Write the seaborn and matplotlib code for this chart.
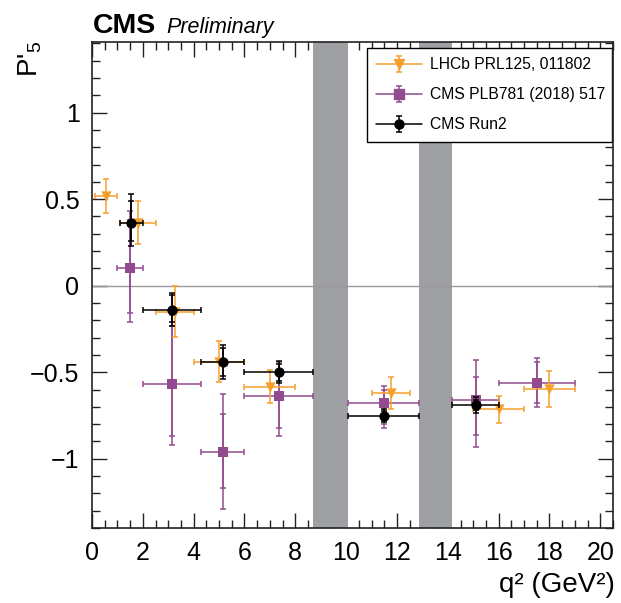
import numpy as np
import pandas as pd
import matplotlib
matplotlib.use("Agg")
import matplotlib.pyplot as plt
from matplotlib.ticker import MultipleLocator
import seaborn as sns

# ---------------- data ----------------
# LHCb PRL125, 011802
lhcb_lo = [0.1, 1.1, 2.5, 4.0, 6.0, 11.0, 15.0, 17.0]
lhcb_hi = [0.98, 2.5, 4.0, 6.0, 8.0, 12.5, 17.0, 19.0]
lhcb_p5 = [0.521, 0.365, -0.150, -0.439, -0.583, -0.622, -0.714, -0.597]
lhcb_err = [0.098, 0.123, 0.147, 0.117, 0.095, 0.092, 0.077, 0.103]

# CMS PLB781 (2018) 517
cms16_lo = [1.0, 2.0, 4.3, 6.0, 10.09, 14.18, 16.0]
cms16_hi = [2.0, 4.3, 6.0, 8.68, 12.86, 16.0, 19.0]
cms16_p5 = [0.10, -0.57, -0.96, -0.64, -0.68, -0.66, -0.56]
cms16_stat_up = [0.28, 0.34, 0.22, 0.15, 0.08, 0.13, 0.12]
cms16_stat_dn = [0.26, 0.30, 0.21, 0.18, 0.12, 0.20, 0.12]
cms16_tot_up = [0.33, 0.40, 0.335, 0.20, 0.10, 0.23, 0.14]
cms16_tot_dn = [0.31, 0.35, 0.33, 0.23, 0.145, 0.27, 0.14]

# CMS Run2
run2_lo = [1.1, 2.0, 4.3, 6.0, 10.09, 14.18]
run2_hi = [2.0, 4.3, 6.0, 8.68, 12.86, 16.0]
run2_p5 = [0.36, -0.14, -0.44, -0.50, -0.75, -0.69]
run2_stat_up = [0.13, 0.085, 0.08, 0.05, 0.025, 0.03]
run2_stat_dn = [0.10, 0.07, 0.08, 0.05, 0.025, 0.03]
run2_tot_up = [0.17, 0.10, 0.10, 0.065, 0.035, 0.045]
run2_tot_dn = [0.13, 0.09, 0.10, 0.065, 0.035, 0.045]

# vetoed charmonium regions
veto_lo = [8.68, 12.86]
veto_hi = [10.09, 14.18]

labels = ["LHCb PRL125, 011802", "CMS PLB781 (2018) 517", "CMS Run2"]

# ---------------- style ----------------
sns.set_theme(style="ticks")
plt.rcParams['font.family'] = ['Liberation Sans', 'DejaVu Sans']
plt.rcParams['mathtext.fontset'] = 'custom'
plt.rcParams['mathtext.rm'] = 'Liberation Sans'
plt.rcParams['mathtext.it'] = 'Liberation Sans:italic'
plt.rcParams['mathtext.bf'] = 'Liberation Sans:bold'
for k in ['text.color', 'axes.labelcolor', 'xtick.color', 'ytick.color']:
    plt.rcParams[k] = 'black'

C_ORANGE = '#F5A02C'
C_PURPLE = '#934B8F'
C_BLACK = '#000000'

fig = plt.figure(figsize=(6.21, 6.03), dpi=100)
W, H = 621, 603
ax = fig.add_axes([92 / W, 1 - 528 / H, (613 - 92) / W, (528 - 41.7) / H])

ax.set_xlim(0, 20.5)
ax.set_ylim(-1.4, 1.41)

for lo, hi in zip(veto_lo, veto_hi):
    ax.axvspan(lo, hi, color='#9FA0A4', lw=0, zorder=1)
ax.axhline(0, color='#9a9a9a', lw=1.0, zorder=1.5)


def frame(lo, hi, y):
    lo = np.asarray(lo); hi = np.asarray(hi)
    x = (lo + hi) / 2
    return pd.DataFrame({'x': x, 'y': y, 'xl': x - lo, 'xh': hi - x})


d_l = frame(lhcb_lo, lhcb_hi, lhcb_p5)
d_c = frame(cms16_lo, cms16_hi, cms16_p5)
d_r = frame(run2_lo, run2_hi, run2_p5)

ekw = dict(fmt='none', elinewidth=1.1, capsize=2.5, capthick=1.1)

# CMS 2018 (purple) - bottom
ax.errorbar(d_c.x, d_c.y, xerr=[d_c.xl, d_c.xh], yerr=[cms16_tot_dn, cms16_tot_up],
            ecolor=C_PURPLE, zorder=3, **ekw)
ax.errorbar(d_c.x, d_c.y, yerr=[cms16_stat_dn, cms16_stat_up],
            ecolor=C_PURPLE, zorder=3, **ekw)
sns.scatterplot(data=d_c, x='x', y='y', marker='s', s=60, color=C_PURPLE,
                edgecolor=C_PURPLE, linewidth=0, ax=ax, zorder=4, legend=False)

# LHCb (orange)
ax.errorbar(d_l.x, d_l.y, xerr=[d_l.xl, d_l.xh], yerr=lhcb_err,
            ecolor=C_ORANGE, zorder=5, **ekw)
sns.scatterplot(data=d_l, x='x', y='y', marker='v', s=55, color=C_ORANGE,
                edgecolor=C_ORANGE, linewidth=0, ax=ax, zorder=6, legend=False)

# CMS Run2 (black)
ax.errorbar(d_r.x, d_r.y, xerr=[d_r.xl, d_r.xh], yerr=[run2_tot_dn, run2_tot_up],
            ecolor=C_BLACK, zorder=7, **ekw)
ax.errorbar(d_r.x, d_r.y, yerr=[run2_stat_dn, run2_stat_up],
            ecolor=C_BLACK, zorder=7, **ekw)
sns.scatterplot(data=d_r, x='x', y='y', marker='o', s=55, color=C_BLACK,
                edgecolor=C_BLACK, linewidth=0, ax=ax, zorder=8, legend=False)

# legend proxies (not drawn in the axes)
handles = []
for col, mk, ms in [(C_ORANGE, 'v', 7), (C_PURPLE, 's', 7), (C_BLACK, 'o', 6.5)]:
    h = ax.errorbar([np.nan], [np.nan], yerr=[1], fmt='-' + mk, color=col, ms=ms,
                    lw=1.1, elinewidth=1.1, capsize=2.5, capthick=1.1)
    handles.append(h)
leg = ax.legend(handles, labels, loc='upper left',
                bbox_to_anchor=((367 - 92) / 521, 0.987, 245 / 521, 0.0),
                mode='expand', fontsize=11.3, frameon=True, fancybox=False,
                framealpha=1, edgecolor='black', borderpad=0.6,
                handlelength=2.9, handletextpad=0.5, labelspacing=0.95,
                borderaxespad=0)
leg.get_frame().set_linewidth(1.0)
leg.set_zorder(10)

# axes styling
ax.set_xlabel('')
ax.set_ylabel('')
ax.xaxis.set_major_locator(MultipleLocator(2))
ax.xaxis.set_minor_locator(MultipleLocator(0.5))
ax.yaxis.set_major_locator(MultipleLocator(0.5))
ax.yaxis.set_minor_locator(MultipleLocator(0.1))
ax.set_yticks([-1, -0.5, 0, 0.5, 1])
ax.set_yticklabels(['\u22121', '\u22120.5', '0', '0.5', '1'])
ax.tick_params(which='both', direction='in', top=True, right=True,
               color='#222222', width=1.0, labelsize=18)
ax.tick_params(which='major', length=11, pad=9)
ax.tick_params(which='minor', length=5.5)
for sp in ax.spines.values():
    sp.set_linewidth(1.2)
    sp.set_color('#222222')
    sp.set_zorder(12)

# titles & axis labels
fig.text(93 / W, 1 - 33 / H, 'CMS', fontsize=20.5, fontweight='bold',
         ha='left', va='baseline')
fig.text(166 / W, 1 - 33 / H, 'Preliminary', fontsize=15.5, fontstyle='italic',
         ha='left', va='baseline')
fig.text(17 / W, 1 - 41 / H, "P'$_5$", fontsize=20, rotation=90,
         ha='left', va='top')
fig.text(615 / W, 1 - 598 / H, 'q\u00b2 (GeV\u00b2)', fontsize=20,
         ha='right', va='bottom')

fig.savefig('out.png', dpi=100)
